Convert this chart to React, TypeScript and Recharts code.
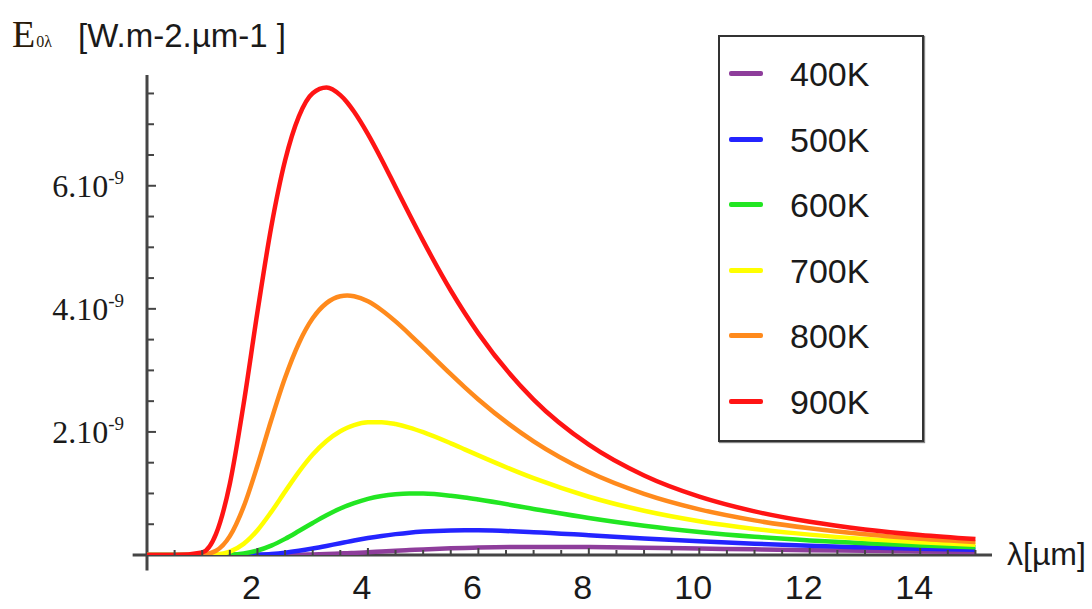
import React from 'react';
import { LineChart, Line, XAxis, YAxis, ReferenceLine } from 'recharts';

// wavelength in µm
const wavelengths = [0, 0.5, 1, 1.25, 1.5, 1.75, 2, 2.25, 2.5, 2.75, 3, 3.25, 3.5, 3.625, 3.75, 4, 4.25, 4.5, 4.75, 5, 5.5, 5.75, 6, 7, 8, 9, 10, 11, 12, 13, 14, 15];

// emittance, in units of 10^-9 as labelled on the axis
const e400 = [0, 0, 0, 0, 0, 0, 0, 0, 0.002, 0.005, 0.01, 0.016, 0.025, 0.029, 0.034, 0.045, 0.057, 0.069, 0.08, 0.09, 0.108, 0.115, 0.12, 0.131, 0.129, 0.119, 0.105, 0.092, 0.079, 0.068, 0.058, 0.049];
const e500 = [0, 0, 0, 0, 0, 0, 0.007, 0.018, 0.038, 0.068, 0.105, 0.147, 0.192, 0.213, 0.235, 0.275, 0.31, 0.339, 0.363, 0.38, 0.399, 0.402, 0.401, 0.371, 0.322, 0.27, 0.223, 0.183, 0.15, 0.124, 0.102, 0.085];
const e600 = [0, 0, 0, 0, 0.006, 0.026, 0.073, 0.153, 0.262, 0.389, 0.52, 0.645, 0.755, 0.802, 0.844, 0.913, 0.96, 0.988, 1.0, 0.998, 0.962, 0.934, 0.901, 0.749, 0.6, 0.474, 0.374, 0.296, 0.236, 0.189, 0.153, 0.125];
const e700 = [0, 0, 0, 0.009, 0.055, 0.181, 0.402, 0.7, 1.03, 1.351, 1.632, 1.853, 2.012, 2.068, 2.111, 2.156, 2.159, 2.128, 2.071, 1.996, 1.815, 1.717, 1.618, 1.248, 0.947, 0.719, 0.549, 0.424, 0.331, 0.261, 0.208, 0.168];
const e800 = [0, 0, 0.006, 0.069, 0.306, 0.785, 1.454, 2.193, 2.88, 3.442, 3.846, 4.093, 4.204, 4.216, 4.204, 4.122, 3.978, 3.796, 3.591, 3.374, 2.938, 2.728, 2.528, 1.847, 1.348, 0.994, 0.742, 0.563, 0.433, 0.337, 0.266, 0.213];
const e900 = [0, 0, 0.043, 0.342, 1.159, 2.458, 3.95, 5.332, 6.41, 7.128, 7.504, 7.596, 7.472, 7.354, 7.202, 6.839, 6.423, 5.979, 5.536, 5.104, 4.298, 3.936, 3.602, 2.526, 1.792, 1.292, 0.948, 0.709, 0.539, 0.416, 0.326, 0.259];

const seriesNames = ['400K', '500K', '600K', '700K', '800K', '900K'];
const seriesColors = ['#8e3d9b', '#2424ff', '#22e622', '#ffff00', '#ff8a1c', '#ff1414'];

const xTicks = [0.5, 1, 1.5, 2, 2.5, 3, 3.5, 4, 4.5, 5, 5.5, 6, 6.5, 7, 7.5, 8, 8.5, 9, 9.5, 10, 10.5, 11, 11.5, 12, 12.5, 13, 13.5, 14, 14.5, 15];
const xLabels = [2, 4, 6, 8, 10, 12, 14];
const yTicks = [0.5, 1, 1.5, 2, 2.5, 3, 3.5, 4, 4.5, 5, 5.5, 6, 6.5, 7, 7.5];
const yLabels = [2, 4, 6];

const allSeries = [e400, e500, e600, e700, e800, e900];
const data = wavelengths.map((w, i) => {
  const row: any = { w };
  seriesNames.forEach((name, s) => {
    row[name] = allSeries[s][i];
  });
  return row;
});

const axisColor = '#454545';

const XTick = ({ x, y, payload }: any) => {
  const v = payload.value;
  const major = xLabels.includes(v);
  return (
    <g>
      <line x1={x} x2={x} y1={y} y2={y - (major ? 7 : 5)} stroke={axisColor} strokeWidth={2} />
      {major && (
        <text x={x - 6} y={y + 44} textAnchor="middle" fontFamily="'Liberation Sans', Arial, sans-serif" fontSize={34} fill="#1a1a1a">
          {v}
        </text>
      )}
    </g>
  );
};

const YTick = ({ x, y, payload }: any) => {
  const v = payload.value;
  const major = yLabels.includes(v);
  return (
    <g>
      <line x1={x} x2={x + (major ? 9 : 7)} y1={y} y2={y} stroke={axisColor} strokeWidth={2} />
      {major && (
        <text x={124} y={y + 11} textAnchor="end" fontFamily="'Liberation Serif', 'Times New Roman', serif" fontSize={32} fill="#1a1a1a">
          {v}.10
          <tspan dy={-13} fontSize={19}>-9</tspan>
        </text>
      )}
    </g>
  );
};

const LegendBox = () => (
  <div
    style={{
      position: 'absolute',
      left: 718,
      top: 35,
      width: 202,
      height: 403,
      border: '2px solid #333',
      boxShadow: '1px 1px 1px #888',
      background: '#fff',
    }}
  >
    {seriesNames.map((name, i) => (
      <div key={name} style={{ position: 'absolute', left: 0, top: 37 + i * 65.6 - 20, height: 40, width: 200 }}>
        <div style={{ position: 'absolute', left: 9, top: 17, width: 34, height: 5, background: seriesColors[i], borderRadius: 2 }} />
        <div
          style={{
            position: 'absolute',
            left: 70,
            top: 0,
            lineHeight: '40px',
            fontFamily: "'Liberation Sans', Arial, sans-serif",
            fontSize: 34,
            color: '#1a1a1a',
          }}
        >
          {name}
        </div>
      </div>
    ))}
  </div>
);

export default function App() {
  return (
    <div style={{ position: 'absolute', left: 0, top: 0, width: 1092, height: 609, background: '#fff', overflow: 'hidden' }}>
      <LineChart width={1092} height={609} data={data} margin={{ top: 75, right: 100, left: 0, bottom: 0 }}>
        <XAxis
          dataKey="w"
          type="number"
          domain={[0, 15.3]}
          ticks={xTicks}
          interval={0}
          allowDataOverflow
          height={54}
          axisLine={false}
          tickLine={false}
          tickSize={0}
          tickMargin={0}
          tick={<XTick />}
        />
        <YAxis
          type="number"
          domain={[0, 7.8]}
          ticks={yTicks}
          interval={0}
          allowDataOverflow
          width={147}
          axisLine={false}
          tickLine={false}
          tickSize={0}
          tickMargin={0}
          tick={<YTick />}
        />
        <ReferenceLine
          segment={[{ x: -0.26, y: 0 }, { x: 15.3, y: 0 }]}
          stroke={axisColor}
          strokeWidth={3}
          ifOverflow="visible"
        />
        <ReferenceLine
          segment={[{ x: 0, y: -0.25 }, { x: 0, y: 7.8 }]}
          stroke={axisColor}
          strokeWidth={3}
          ifOverflow="visible"
        />
        {seriesNames.map((name, i) => (
          <Line
            key={name}
            dataKey={name}
            type="monotone"
            stroke={seriesColors[i]}
            strokeWidth={4.5}
            dot={false}
            activeDot={false}
            isAnimationActive={false}
          />
        ))}
      </LineChart>
      <LegendBox />
      <svg width={1092} height={609} style={{ position: 'absolute', left: 0, top: 0, pointerEvents: 'none' }}>
        <text x={12} y={47} fontFamily="'Liberation Serif', 'Times New Roman', serif" fontSize={38} fill="#2a1a0a">
          E
          <tspan fontSize={16} dx={1}>0λ</tspan>
        </text>
        <text x={78} y={47} fontFamily="'Liberation Sans', Arial, sans-serif" fontSize={33} fill="#1a1a1a">
          [W.m-2.µm-1 ]
        </text>
        <text x={1007} y={565} fontFamily="'Liberation Sans', Arial, sans-serif" fontSize={32} fill="#1a1a1a">
          λ[µm]
        </text>
      </svg>
    </div>
  );
}
